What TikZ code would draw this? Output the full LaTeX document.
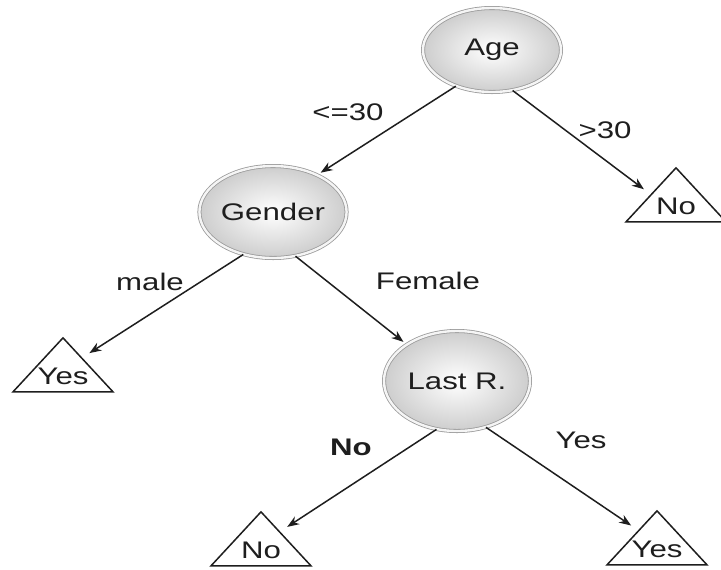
\documentclass[tikz,border=0pt]{standalone}
\usepackage{fontspec}
\usetikzlibrary{arrows.meta, shapes.geometric}
\newfontfamily\diagfont{Liberation Sans}[FakeStretch=1.3]
\definecolor{tring}{HTML}{9A9A9A}
\definecolor{tfill}{HTML}{CDCDCD}
\definecolor{tdark}{HTML}{1E1E1E}
\newcommand{\leaftext}[1]{\makebox[0pt]{\raisebox{-7.3pt}[0pt][0pt]{#1}}}
\tikzset{
  attr/.style={ellipse, draw=tring, double=gray!8, double distance=1.2pt, line width=0.4pt,
               inner color=white, outer color=tfill, minimum width=73pt, minimum height=46pt,
               inner sep=0pt, font=\diagfont\fontsize{12}{14}\selectfont, text=tdark},
  leaf/.style={isosceles triangle, isosceles triangle stretches, shape border rotate=90,
               draw=tdark, line width=0.75pt, minimum width=50pt, minimum height=27pt,
               inner sep=0pt, font=\diagfont\fontsize{12}{14}\selectfont, text=tdark},
  lbl/.style={font=\diagfont\fontsize{12}{14}\selectfont, text=tdark},
  arr/.style={-{Stealth[length=6pt, width=4.5pt]}, line width=0.75pt, tdark},
}
\begin{document}
\begin{tikzpicture}[x=0.5pt, y=-0.5pt]
  \useasboundingbox (0,0) rectangle (721,569);
  % inner nodes
  \node[attr, minimum width=69pt, minimum height=42pt] (age) at (492, 50) {Age};
  \node[attr] (gender) at (273, 212) {Gender};
  \node[attr, minimum height=50pt] (lastr) at (457, 381) {Last R.};
  % leaves
  \node[leaf] (no1) at (676, 200) {\leaftext{No}};
  \node[leaf] (yes1) at (63, 370) {\leaftext{Yes}};
  \node[leaf] (no2) at (261, 544) {\leaftext{No}};
  \node[leaf] (yes2) at (657, 543) {\leaftext{Yes}};
  % edge labels
  \node[lbl] (l1) at (348, 112) {<=30};
  \node[lbl] (l2) at (605, 130) {>30};
  \node[lbl] (l3) at (150, 282) {male};
  \node[lbl] (l4) at (428, 281) {Female};
  \node[lbl, font=\diagfont\fontsize{12}{14}\selectfont\bfseries] (l5) at (351, 447) {No};
  \node[lbl] (l6) at (581, 440) {Yes};

  \draw[arr, shorten >=2pt] (age.225) -- (gender.40);
  \draw[arr, shorten >=4pt] (age.-63) -- (no1.167);
  \draw[arr, shorten >=4pt] (gender.235) -- (yes1);
  \draw[arr, shorten >=2pt] (gender.-63) -- (lastr.144);
  \draw[arr, shorten >=4pt] (lastr.247) -- (no2);
  \draw[arr, shorten >=4pt] (lastr.-58) -- (yes2);
\end{tikzpicture}
\end{document}
